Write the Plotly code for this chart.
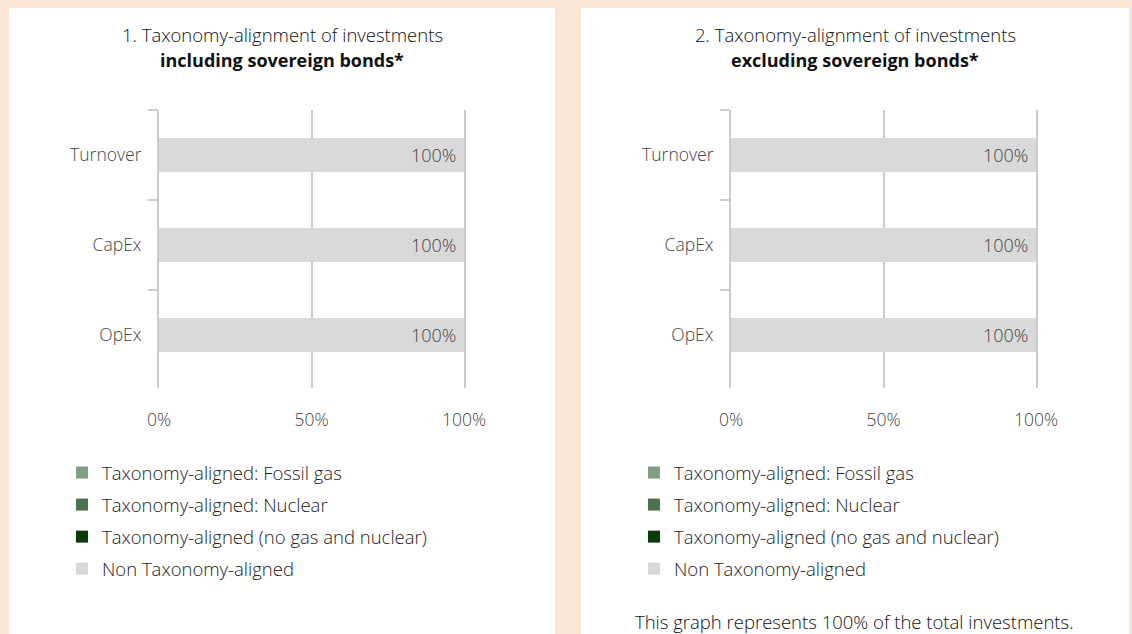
import plotly.graph_objects as go

W, H = 1132, 634

categories = ["Turnover", "CapEx", "OpEx"]
series_names = [
    "Taxonomy-aligned: Fossil gas",
    "Taxonomy-aligned: Nuclear",
    "Taxonomy-aligned (no gas and nuclear)",
    "Non Taxonomy-aligned",
]
series_colors = ["#7f9f80", "#4e714f", "#0a3a0a", "#d9d9d9"]

# Chart 1: including sovereign bonds
incl_fossil_gas = [0, 0, 0]
incl_nuclear = [0, 0, 0]
incl_aligned = [0, 0, 0]
incl_non_aligned = [100, 100, 100]

# Chart 2: excluding sovereign bonds
excl_fossil_gas = [0, 0, 0]
excl_nuclear = [0, 0, 0]
excl_aligned = [0, 0, 0]
excl_non_aligned = [100, 100, 100]

x_tickvals = [0, 50, 100]
x_ticktext = ["0%", "50%", "100%"]

titles_line1 = ["1. Taxonomy-alignment of investments", "2. Taxonomy-alignment of investments"]
titles_line2 = ["including sovereign bonds*", "excluding sovereign bonds*"]
footer = "This graph represents 100% of the total investments."

FONT = "'Open Sans', Roboto, 'Liberation Sans', Arial, sans-serif"
PEACH = "#fae6d3"
GRID = "#cccccc"


def px(x):
    return x / W


def py(y):
    return 1 - y / H


fig = go.Figure()

ypos = list(range(len(categories)))
datasets = [
    [incl_fossil_gas, incl_nuclear, incl_aligned, incl_non_aligned],
    [excl_fossil_gas, excl_nuclear, excl_aligned, excl_non_aligned],
]

for ci, data in enumerate(datasets):
    xa = "x" if ci == 0 else "x2"
    ya = "y" if ci == 0 else "y2"
    lg = "legend" if ci == 0 else "legend2"
    for si, (name, color, vals) in enumerate(zip(series_names, series_colors, data)):
        is_non = si == len(series_names) - 1
        fig.add_trace(go.Bar(
            orientation="h",
            x=vals,
            y=ypos,
            name=name,
            marker=dict(color=color, line=dict(width=0)),
            width=0.37,
            xaxis=xa,
            yaxis=ya,
            legend=lg,
            legendgroup=f"c{ci}s{si}",
            text=[f"{v:.0f}%\u00a0" for v in vals] if is_non else None,
            textposition="inside" if is_non else "none",
            insidetextanchor="end",
            textfont=dict(family=FONT, size=18, color="#444444", weight=300),
            hoverinfo="skip",
        ))

axis_common_x = dict(
    range=[0, 100],
    tickvals=x_tickvals,
    ticktext=x_ticktext,
    showgrid=True,
    gridcolor=GRID,
    gridwidth=2,
    zeroline=False,
    showline=False,
    ticks="",
    ticklabelstandoff=19,
    tickfont=dict(family=FONT, size=17.5, color="#444444", weight=300),
    fixedrange=True,
    automargin=False,
)
axis_common_y = dict(
    range=[2.589, -0.5],
    tickvals=ypos,
    ticktext=categories,
    ticks="",
    showgrid=False,
    zeroline=False,
    showline=True,
    mirror=True,
    linecolor=GRID,
    linewidth=2,
    ticklabelstandoff=12,
    minor=dict(tickvals=[-0.5, 0.5, 1.5], ticks="outside", ticklen=9,
               tickcolor=GRID, tickwidth=2),
    tickfont=dict(family=FONT, size=17.5, color="#444444", weight=300),
    domain=[py(388), py(110)],
    fixedrange=True,
    automargin=False,
)

fig.update_layout(
    xaxis=dict(domain=[px(159), px(464)], anchor="y", **axis_common_x),
    yaxis=dict(anchor="x", **axis_common_y),
    xaxis2=dict(domain=[px(731), px(1036)], anchor="y2", **axis_common_x),
    yaxis2=dict(anchor="x2", **axis_common_y),
)

legend_common = dict(
    orientation="v",
    traceorder="grouped",
    tracegroupgap=5,
    font=dict(family=FONT, size=18.5, color="#222222", weight=300),
    bgcolor="rgba(0,0,0,0)",
    xanchor="left",
    yanchor="top",
    itemclick=False,
    itemdoubleclick=False,
)
fig.update_layout(
    legend=dict(x=px(62), y=py(454), **legend_common),
    legend2=dict(x=px(634), y=py(454), **legend_common),
)

shapes = []
# white panels
shapes.append(dict(type="rect", xref="paper", yref="paper", x0=px(9), x1=px(555), y0=py(H + 20), y1=py(8),
                   fillcolor="white", line=dict(width=0), layer="below"))
shapes.append(dict(type="rect", xref="paper", yref="paper", x0=px(581), x1=px(1129), y0=py(H + 20), y1=py(8),
                   fillcolor="white", line=dict(width=0), layer="below"))
fig.update_layout(shapes=shapes)

annotations = []
for ci, cx in enumerate([282, 855]):
    annotations.append(dict(text=titles_line1[ci], x=px(cx), y=py(35), xref="paper", yref="paper",
                            xanchor="center", yanchor="middle", showarrow=False,
                            font=dict(family=FONT, size=18.5, color="#111111", weight=300)))
    annotations.append(dict(text=f"<b>{titles_line2[ci]}</b>", x=px(cx), y=py(60), xref="paper", yref="paper",
                            xanchor="center", yanchor="middle", showarrow=False,
                            font=dict(family=FONT, size=18, color="#111111")))
annotations.append(dict(text=footer, x=px(633), y=py(621), xref="paper", yref="paper",
                        xanchor="left", yanchor="middle", showarrow=False,
                        font=dict(family=FONT, size=18.5, color="#111111", weight=300)))

fig.update_layout(
    annotations=annotations,
    barmode="stack",
    width=W,
    height=H,
    margin=dict(l=0, r=0, t=0, b=0, pad=0),
    paper_bgcolor=PEACH,
    plot_bgcolor="rgba(0,0,0,0)",
    showlegend=True,
)

fig.write_html(
    "out.html",
    config={"displayModeBar": False},
    post_script=f"document.body.style.margin='0';document.body.style.background='{PEACH}';",
)
